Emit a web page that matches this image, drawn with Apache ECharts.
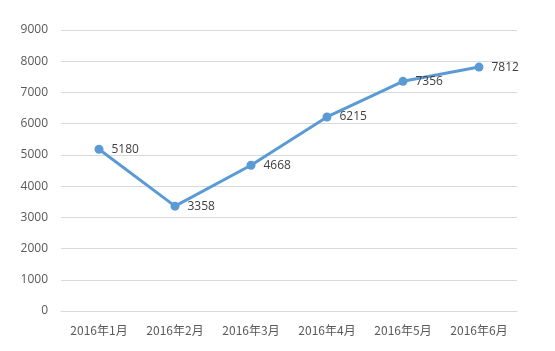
<!DOCTYPE html>
<html><head><meta charset="utf-8">
<script src="https://cdn.jsdelivr.net/npm/echarts@6/dist/echarts.min.js"></script>
<style>html,body{margin:0;padding:0;background:#fff}#c{width:555px;height:351px}</style>
</head><body><div id="c"></div>
<script>
const categories = ['2016年1月','2016年2月','2016年3月','2016年4月','2016年5月','2016年6月'];
const values = [5180, 3358, 4668, 6215, 7356, 7812];
const yTicks = {min: 0, max: 9000, interval: 1000};

const chart = echarts.init(document.getElementById('c'), null, {renderer: 'canvas'});
chart.setOption({
  animation: false,
  backgroundColor: '#fff',
  grid: {left: 61, right: 38, top: 30, bottom: 40},
  xAxis: {
    type: 'category', data: categories, boundaryGap: true,
    axisLine: {show: true, lineStyle: {color: '#d9d9d9'}},
    axisTick: {show: false},
    axisLabel: {color: '#595959', fontSize: 12, margin: 13, fontFamily: 'Noto Sans CJK SC'}
  },
  yAxis: {
    type: 'value', min: yTicks.min, max: yTicks.max, interval: yTicks.interval,
    axisLine: {show: false}, axisTick: {show: false},
    axisLabel: {color: '#595959', fontSize: 12, margin: 13, fontFamily: 'Open Sans', formatter: v => String(v)},
    splitLine: {lineStyle: {color: '#d9d9d9'}}
  },
  series: [{
    type: 'line', data: values,
    symbol: 'circle', symbolSize: 9,
    lineStyle: {color: '#5b9bd5', width: 3},
    itemStyle: {color: '#5b9bd5'},
    label: {show: true, position: 'right', distance: 8, color: '#404040', fontSize: 12, fontFamily: 'Open Sans'}
  }]
});
</script></body></html>
